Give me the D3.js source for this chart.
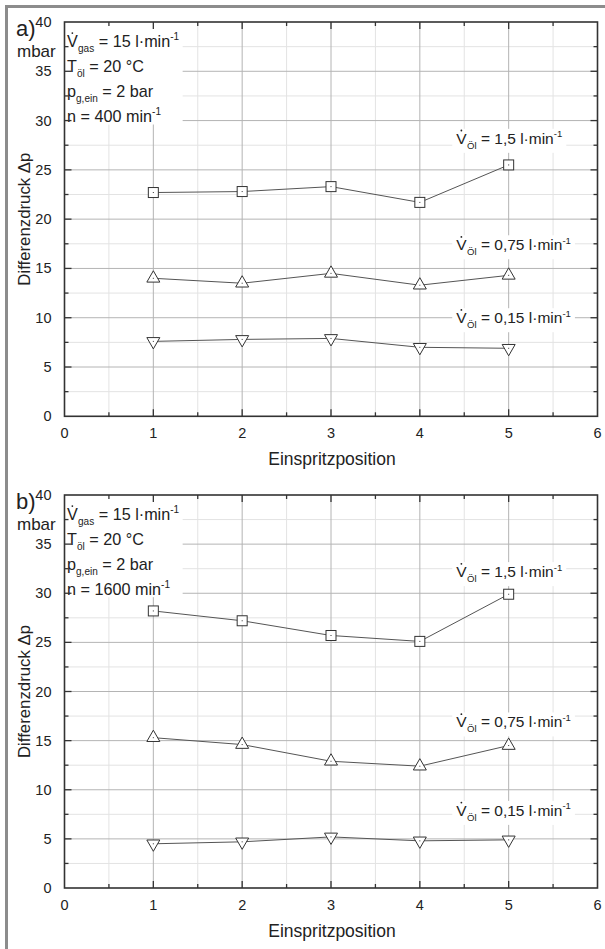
<!DOCTYPE html>
<html><head><meta charset="utf-8">
<script src="https://cdn.jsdelivr.net/npm/d3@7"></script>
<style>
html,body{margin:0;padding:0;background:#fff;}
svg text{font-family:"Liberation Sans",Arial,sans-serif;fill:#222;}
</style></head>
<body>
<svg id="chart" width="605" height="949"></svg>
<script>
// ---- data ----
const positions = [1, 2, 3, 4, 5];
const xTicks = [0, 1, 2, 3, 4, 5, 6];
const yTicks = [0, 5, 10, 15, 20, 25, 30, 35, 40];
const panelTags = ["a)", "b)"];
const speeds = ["400", "1600"];
const seriesNames = ["1,5", "0,75", "0,15"];
const seriesShapes = ["square", "triUp", "triDown"];
// panel a (n = 400 min-1)
const a_15 = [22.7, 22.8, 23.3, 21.7, 25.5];
const a_075 = [14.0, 13.5, 14.5, 13.3, 14.3];
const a_015 = [7.6, 7.8, 7.9, 7.0, 6.9];
// panel b (n = 1600 min-1)
const b_15 = [28.2, 27.2, 25.7, 25.1, 29.9];
const b_075 = [15.3, 14.6, 12.9, 12.4, 14.5];
const b_015 = [4.5, 4.7, 5.2, 4.8, 4.9];
// series label anchor values (y, in mbar)
const a_labelY = [28.2, 17.4, 10.0];
const b_labelY = [32.2, 16.9, 7.9];

// ---- layout ----
const svg = d3.select("#chart");
svg.append("rect").attr("x", 6.5).attr("y", 6.5).attr("width", 800).attr("height", 1200)
  .attr("fill", "none").attr("stroke", "#8c8c8c").attr("stroke-width", 3);

const panelLayout = [
  {top: 22, bottom: 416.3, series: [a_15, a_075, a_015], labelY: a_labelY},
  {top: 495, bottom: 888, series: [b_15, b_075, b_015], labelY: b_labelY}
];
const left = 64.5, right = 597.5;

function richText(g, x, y, parts, size) {
  const t = g.append("text").attr("x", x).attr("y", y).style("font-size", size + "px");
  let shift = 0;
  parts.forEach(p => {
    const s = t.append("tspan").text(p.t);
    let target = 0, fs = size;
    if (p.sub) { target = size * 0.32; fs = size * 0.62; }
    if (p.sup) { target = -size * 0.42; fs = size * 0.62; }
    s.attr("dy", target - shift).style("font-size", fs + "px");
    shift = target;
  });
  return t;
}
function vdot(g, x, y, size) {
  // V with dot above
  g.append("text").attr("x", x).attr("y", y).style("font-size", size + "px").text("V");
  g.append("circle").attr("cx", x + size * 0.33).attr("cy", y - size * 0.86).attr("r", 0.9).attr("fill", "#222");
}

panelLayout.forEach((P, pi) => {
  const g = svg.append("g");
  const x = d3.scaleLinear().domain([0, 6]).range([left, right]);
  const y = d3.scaleLinear().domain([0, 40]).range([P.bottom, P.top]);

  // minor grid
  const gx = d3.range(0.5, 6, 1), gy = d3.range(2.5, 40, 5);
  g.selectAll(null).data(gx).join("line").attr("x1", d => x(d)).attr("x2", d => x(d))
    .attr("y1", P.top).attr("y2", P.bottom).attr("stroke", "#e3e3e3").attr("stroke-width", 1);
  g.selectAll(null).data(gy).join("line").attr("y1", d => y(d)).attr("y2", d => y(d))
    .attr("x1", left).attr("x2", right).attr("stroke", "#e3e3e3").attr("stroke-width", 1);
  // major grid
  g.selectAll(null).data(xTicks.slice(1, -1)).join("line").attr("x1", d => x(d)).attr("x2", d => x(d))
    .attr("y1", P.top).attr("y2", P.bottom).attr("stroke", "#b4b4b4").attr("stroke-width", 1);
  g.selectAll(null).data(yTicks.slice(1, -1)).join("line").attr("y1", d => y(d)).attr("y2", d => y(d))
    .attr("x1", left).attr("x2", right).attr("stroke", "#b4b4b4").attr("stroke-width", 1);

  // annotation box
  g.append("rect").attr("x", x(0)).attr("y", y(40)).attr("width", x(1.33) - x(0))
    .attr("height", y(29.6) - y(40)).attr("fill", "#fff");
  const ax = x(0) + 2.5, fs = 16.2;
  const b0 = y(40) + 25;
  vdot(g, ax, b0, fs);
  richText(g, ax + 11, b0, [{t: "gas", sub: true}, {t: " = 15 l·min"}, {t: "-1", sup: true}], fs);
  richText(g, ax, b0 + 25, [{t: "T"}, {t: "öl", sub: true}, {t: " = 20 °C"}], fs);
  richText(g, ax, b0 + 50, [{t: "p"}, {t: "g,ein", sub: true}, {t: " = 2 bar"}], fs);
  richText(g, ax, b0 + 75, [{t: "n = " + speeds[pi] + " min"}, {t: "-1", sup: true}], fs);

  // series lines & markers
  const line = d3.line().x((d, i) => x(positions[i])).y(d => y(d));
  P.series.forEach((vals, si) => {
    g.append("path").datum(vals).attr("d", line).attr("fill", "none")
      .attr("stroke", "#555").attr("stroke-width", 1);
  });
  P.series.forEach((vals, si) => {
    const shape = seriesShapes[si];
    const mg = g.selectAll(null).data(vals).join("g")
      .attr("transform", (d, i) => `translate(${x(positions[i])},${y(d)})`);
    if (shape === "square") {
      mg.append("rect").attr("x", -5).attr("y", -5).attr("width", 10).attr("height", 10)
        .attr("fill", "#fff").attr("stroke", "#333").attr("stroke-width", 1);
    } else if (shape === "triUp") {
      mg.append("path").attr("d", "M0,-7.5 L6.5,3.8 L-6.5,3.8 Z")
        .attr("fill", "#fff").attr("stroke", "#333").attr("stroke-width", 1);
    } else {
      mg.append("path").attr("d", "M0,7.5 L6.5,-3.8 L-6.5,-3.8 Z")
        .attr("fill", "#fff").attr("stroke", "#333").attr("stroke-width", 1);
    }
    mg.append("rect").attr("x", -0.5).attr("y", -0.5).attr("width", 1).attr("height", 1).attr("fill", "#333");
  });

  // series labels
  seriesNames.forEach((nm, si) => {
    const lg = g.append("g");
    const lx = x(4.41), ly = y(P.labelY[si]) + 5.5;
    const bg = lg.append("rect").attr("fill", "#fff");
    vdot(lg, lx, ly, 15.5);
    const t = richText(lg, lx + 10.8, ly, [{t: "Öl", sub: true}, {t: " = " + nm + " l·min"}, {t: "-1", sup: true}], 15.5);
    const bb = t.node().getBBox();
    bg.attr("x", lx - 4).attr("y", ly - 15).attr("width", bb.x + bb.width - lx + 8).attr("height", 24);
  });

  // axes (frame + inward ticks)
  const axisCol = "#333";
  g.append("rect").attr("x", left).attr("y", P.top).attr("width", right - left).attr("height", P.bottom - P.top)
    .attr("fill", "none").attr("stroke", axisCol).attr("stroke-width", 1.6);
  const xt = d3.range(0.5, 6, 0.5);
  g.selectAll(null).data(xt).join("line").attr("x1", d => x(d)).attr("x2", d => x(d))
    .attr("y1", P.bottom).attr("y2", d => P.bottom - (d % 1 === 0 ? 7 : 4))
    .attr("stroke", axisCol).attr("stroke-width", 1.3);
  g.selectAll(null).data(xt).join("line").attr("x1", d => x(d)).attr("x2", d => x(d))
    .attr("y1", P.top).attr("y2", d => P.top + (d % 1 === 0 ? 7 : 4))
    .attr("stroke", axisCol).attr("stroke-width", 1.3);
  const yt = d3.range(2.5, 40, 2.5);
  g.selectAll(null).data(yt).join("line").attr("y1", d => y(d)).attr("y2", d => y(d))
    .attr("x1", left).attr("x2", d => left + (d % 5 === 0 ? 7 : 4))
    .attr("stroke", axisCol).attr("stroke-width", 1.3);
  g.selectAll(null).data(yt).join("line").attr("y1", d => y(d)).attr("y2", d => y(d))
    .attr("x1", right).attr("x2", d => right - (d % 5 === 0 ? 7 : 4))
    .attr("stroke", axisCol).attr("stroke-width", 1.3);

  // tick labels
  g.selectAll(null).data(xTicks).join("text").attr("x", d => x(d)).attr("y", P.bottom + 22)
    .attr("text-anchor", "middle").style("font-size", "14.5px").text(d => d);
  g.selectAll(null).data(yTicks).join("text").attr("x", left - 13).attr("y", d => y(d) + 5)
    .attr("text-anchor", "end").style("font-size", "14.5px").text(d => d);

  // axis titles
  g.append("text").attr("x", (left + right) / 2 + 1).attr("y", P.bottom + 49)
    .attr("text-anchor", "middle").style("font-size", "17.5px").text("Einspritzposition");
  g.append("text").attr("transform", `translate(30,${(P.top + P.bottom) / 2}) rotate(-90)`)
    .attr("text-anchor", "middle").style("font-size", "16.8px").text("Differenzdruck Δp");
  g.append("text").attr("x", 17).attr("y", P.top + 35).style("font-size", "17px").text("mbar");
  g.append("text").attr("x", 16).attr("y", P.top + 14).style("font-size", "22px").text(panelTags[pi]);
});
</script>
</body></html>
